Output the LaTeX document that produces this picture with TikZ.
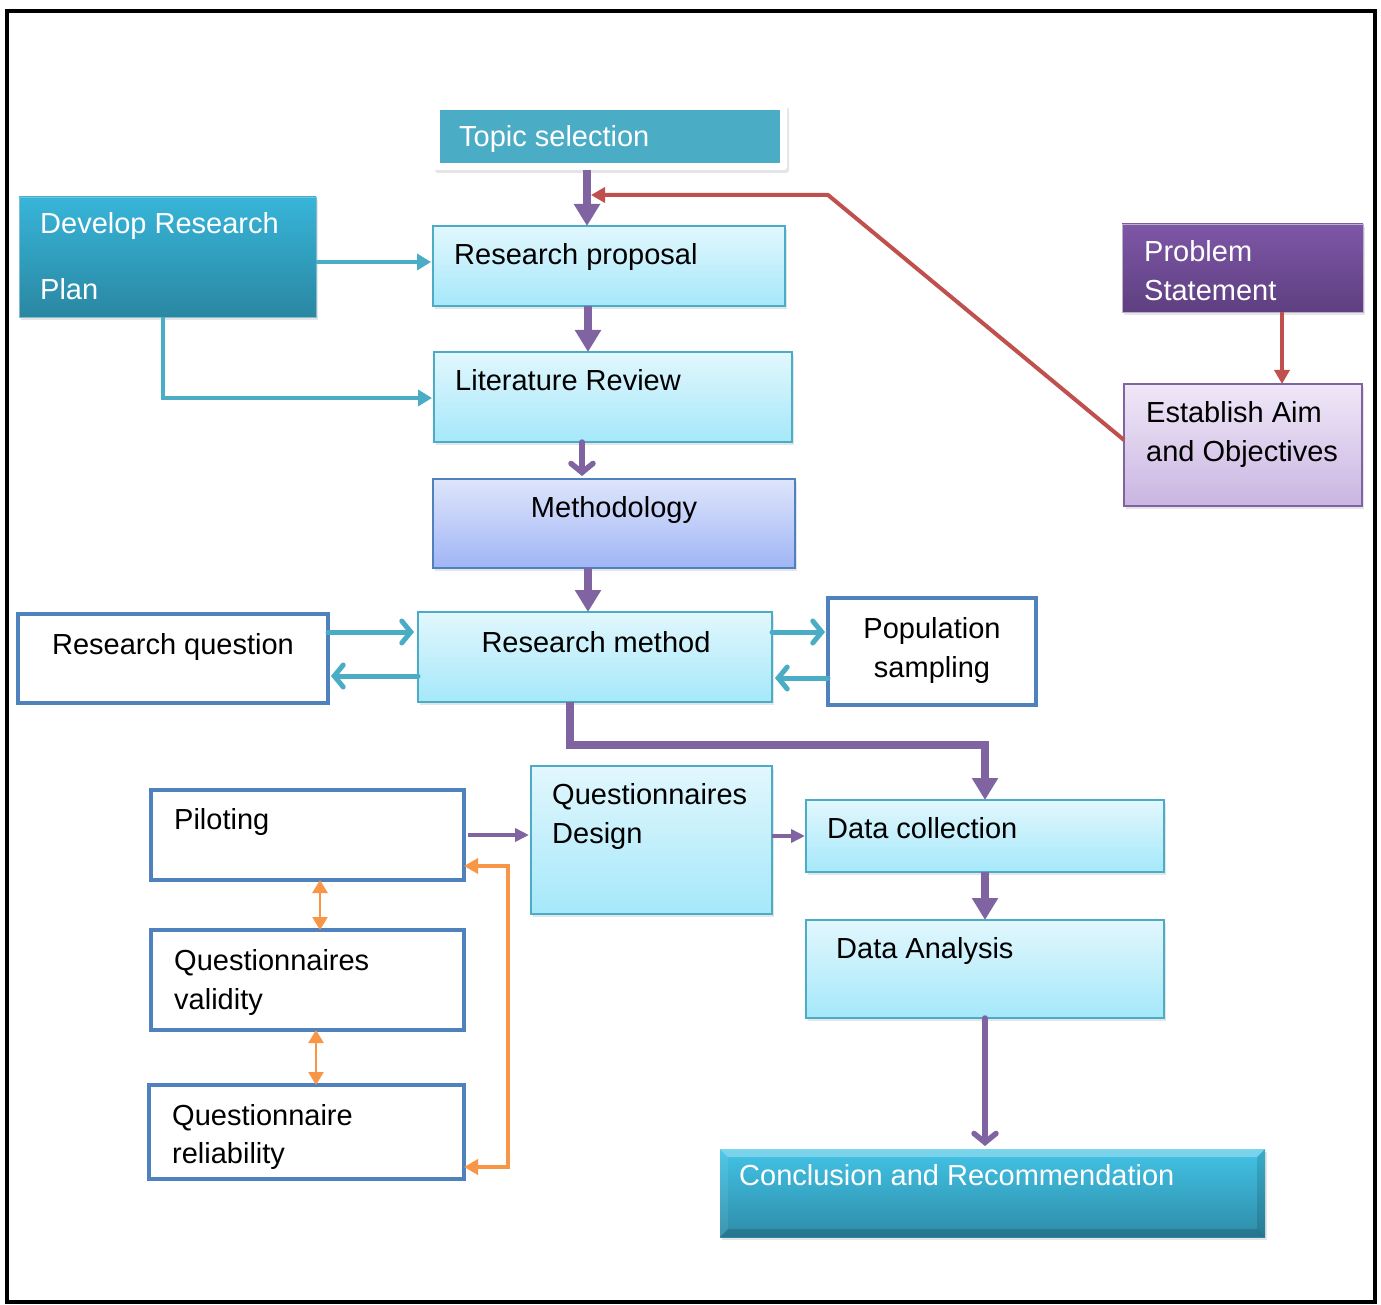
\documentclass[tikz,border=0pt]{standalone}
\usepackage{fontspec}
\setmainfont{Liberation Sans}
\usetikzlibrary{arrows.meta,shadows,calc}
\definecolor{tealA}{HTML}{4BACC6}
\definecolor{devT}{HTML}{37B5D9}
\definecolor{devB}{HTML}{2A87A2}
\definecolor{cyT}{HTML}{E2F7FD}
\definecolor{cyB}{HTML}{A5E8FA}
\definecolor{meT}{HTML}{DEE5FB}
\definecolor{meB}{HTML}{A0B5F5}
\definecolor{blueE}{HTML}{4F81BD}
\definecolor{prT}{HTML}{7E57A7}
\definecolor{prB}{HTML}{5E3F80}
\definecolor{laT}{HTML}{EFE8F7}
\definecolor{laB}{HTML}{CAB5E2}
\definecolor{purp}{HTML}{8064A2}
\definecolor{redA}{HTML}{C0504D}
\definecolor{oraA}{HTML}{F79646}
\definecolor{coT}{HTML}{42C3E6}
\definecolor{coB}{HTML}{2E8CA8}
\tikzset{
  shad/.style={drop shadow={opacity=0.2,shadow xshift=2pt,shadow yshift=-3pt}},
  boxbase/.style={rectangle, anchor=north west, inner sep=0pt, outer sep=0pt, shad},
  cybox/.style={boxbase, draw=tealA, line width=1.6pt, top color=cyT, bottom color=cyB},
  mebox/.style={boxbase, draw=blueE, line width=1.6pt, top color=meT, bottom color=meB},
  devbox/.style={boxbase, draw=devT!80!black!60, line width=0.8pt, top color=devT, bottom color=devB},
  prbox/.style={boxbase, draw=prT!70!black!40, line width=0.8pt, top color=prT, bottom color=prB},
  labox/.style={boxbase, draw=purp, line width=1.6pt, top color=laT, bottom color=laB},
  whbox/.style={rectangle, anchor=north west, inner sep=0pt, outer sep=0pt, draw=blueE, line width=4pt, fill=white},
  txt/.style={font=\fontsize{29}{35}\selectfont, inner sep=0pt, anchor=base west, text=black},
  wtxt/.style={txt, text=white},
  ctxt/.style={txt, anchor=base},
  parrow/.style={draw=purp, line width=8pt, -{Triangle[length=22pt,width=25pt]}},
  pmed/.style={draw=purp, line width=4pt, -{Triangle[length=14pt,width=13pt]}},
  pchev/.style={draw=purp, line width=5.5pt, line cap=round, -{Straight Barb[length=9pt,width=22pt,line cap=round]}},
  tarrow/.style={draw=tealA, line width=4.5pt, -{Triangle[length=14pt,width=16pt]}},
  tchev/.style={draw=tealA, line width=5pt, line cap=round, -{Straight Barb[length=9pt,width=22pt,line cap=round]}},
  rarrow/.style={draw=redA, line width=4pt, -{Triangle[length=14pt,width=15pt]}},
  oboth/.style={draw=oraA, line width=2.5pt, {Triangle[length=13pt,width=15pt]}-{Triangle[length=13pt,width=15pt]}},
  oloop/.style={draw=oraA, line width=4pt, {Triangle[length=14pt,width=15pt]}-{Triangle[length=14pt,width=15pt]}},
}
\begin{document}
\begin{tikzpicture}[x=1pt,y=-1pt]
\useasboundingbox[fill=white] (0,0) rectangle (1381,1305);
\draw[black, line width=4pt] (7,11) rectangle (1375,1302);

% boxes
\node[boxbase, fill=white, rounded corners=3pt, minimum width=354pt, minimum height=66pt] (topicOuter) at (433,104) {};
\node[rectangle, anchor=north west, inner sep=0pt, fill=tealA, minimum width=340pt, minimum height=53pt] (topic) at (440,110) {};
\node[devbox, minimum width=297pt, minimum height=120pt] (dev) at (19,197) {};
\node[cybox, minimum width=352pt, minimum height=80pt] (rp) at (433,226) {};
\node[cybox, minimum width=358pt, minimum height=90pt] (lr) at (434,352) {};
\node[mebox, minimum width=362pt, minimum height=89pt] (meth) at (433,479) {};
\node[prbox, minimum width=241pt, minimum height=88pt] (prob) at (1122,224) {};
\node[labox, minimum width=238pt, minimum height=122pt] (aim) at (1124,384) {};
\node[whbox, minimum width=310pt, minimum height=89pt] (rq) at (18,614) {};
\node[cybox, minimum width=354pt, minimum height=90pt] (rm) at (418,612) {};
\node[whbox, minimum width=208pt, minimum height=107pt] (pop) at (828,598) {};
\node[whbox, minimum width=313pt, minimum height=90pt] (pil) at (151,790) {};
\node[cybox, minimum width=241pt, minimum height=148pt] (qd) at (531,766) {};
\node[cybox, minimum width=358pt, minimum height=72pt] (dc) at (806,800) {};
\node[cybox, minimum width=358pt, minimum height=98pt] (da) at (806,920) {};
\node[whbox, minimum width=313pt, minimum height=100pt] (qv) at (151,930) {};
\node[whbox, minimum width=315pt, minimum height=94pt] (qr) at (149,1085) {};
\node[boxbase, top color=coT, bottom color=coB, minimum width=545pt, minimum height=88pt] (conc) at (720,1149) {};
% bevel of the conclusion box
\fill[white, opacity=0.3] (conc.north west) -- (conc.north east) -- ([shift={(-8pt,-8pt)}]conc.north east) -- ([shift={(8pt,-8pt)}]conc.north west) -- cycle;
\fill[white, opacity=0.08] (conc.north west) -- ([shift={(8pt,-8pt)}]conc.north west) -- ([shift={(8pt,8pt)}]conc.south west) -- (conc.south west) -- cycle;
\fill[black, opacity=0.12] (conc.north east) -- ([shift={(-8pt,-8pt)}]conc.north east) -- ([shift={(-8pt,8pt)}]conc.south east) -- (conc.south east) -- cycle;
\fill[black, opacity=0.16] (conc.south west) -- ([shift={(8pt,8pt)}]conc.south west) -- ([shift={(-8pt,8pt)}]conc.south east) -- (conc.south east) -- cycle;

% texts
\node[wtxt] (tTopic) at (459,147) {Topic selection};
\node[wtxt] (tDev1) at (40,234) {Develop Research};
\node[wtxt] (tDev2) at (40,300) {Plan};
\node[txt] (tRp) at (454,265) {Research proposal};
\node[wtxt] (tProb1) at (1144,262) {Problem};
\node[wtxt] (tProb2) at (1144,301) {Statement};
\node[txt] (tLr) at (455,390) {Literature Review};
\node[txt] (tAim1) at (1146,422) {Establish Aim};
\node[txt] (tAim2) at (1146,461) {and Objectives};
\node[ctxt] (tMeth) at (614,517) {Methodology};
\node[ctxt] (tRq) at (173,654) {Research question};
\node[ctxt] (tRm) at (596,652) {Research method};
\node[ctxt] (tPop1) at (932,638) {Population};
\node[ctxt] (tPop2) at (932,677) {sampling};
\node[txt] (tPil) at (174,829) {Piloting};
\node[txt] (tQd1) at (552,804) {Questionnaires};
\node[txt] (tQd2) at (552,843) {Design};
\node[txt] (tDc) at (827,838) {Data collection};
\node[txt] (tDa) at (836,958) {Data Analysis};
\node[txt] (tQv1) at (174,970) {Questionnaires};
\node[txt] (tQv2) at (174,1009) {validity};
\node[txt] (tQr1) at (172,1125) {Questionnaire};
\node[txt] (tQr2) at (172,1163) {reliability};
\node[wtxt] (tConc) at (739,1185) {Conclusion and Recommendation};

% connectors
\draw[parrow] ([xshift=-23pt]topicOuter.south) -- ([xshift=-23pt]topicOuter.south |- rp.north);
\coordinate (rbend) at (828,195);
\coordinate (rend) at (591,195);
\draw[rarrow] ([yshift=5pt]aim.west) -- (rbend) -- (rend);
\draw[rarrow] ([xshift=39.5pt]prob.south) -- ([xshift=39.5pt]prob.south |- aim.north);
\draw[tarrow, shorten >=2pt] ([yshift=-5pt]dev.east) -- ([yshift=-5pt]dev.east -| rp.west);
\draw[tarrow, shorten >=2pt] ([xshift=-4.5pt]dev.south) |- ([yshift=-1pt]lr.west);
\draw[parrow] ([xshift=-21pt]rp.south) -- ([xshift=-21pt]rp.south |- lr.north);
\draw[pchev, shorten >=3pt] ([xshift=-31pt]lr.south) -- ([xshift=-31pt]lr.south |- meth.north);
\draw[parrow] ([xshift=-26pt]meth.south) -- ([xshift=-26pt]meth.south |- rm.north);
\draw[tchev, shorten >=4pt] ([yshift=26.5pt]rq.east) -- ([yshift=26.5pt]rq.east -| rm.west);
\draw[tchev, shorten >=3pt] ([yshift=-19pt]rm.west) -- ([yshift=-19pt]rm.west -| rq.east);
\draw[tchev, shorten >=3pt] ([yshift=25pt]rm.east) -- ([yshift=25pt]rm.east -| pop.west);
\draw[tchev, shorten >=3pt] ([yshift=-26.5pt]pop.west) -- ([yshift=-26.5pt]pop.west -| rm.east);
\coordinate (rmb) at (570,745);
\draw[parrow] (rm.south -| rmb) -- (rmb) -| (dc.north);
\draw[pmed, shorten >=2pt] ([xshift=4pt]pil.east) -- (qd.west |- pil.east);
\draw[pmed, shorten >=1pt] (qd.east |- dc.west) -- (dc.west);
\draw[parrow] (dc.south) -- (da.north);
\draw[pchev, shorten >=3pt] (da.south) -- (da.south |- conc.north);
\draw[oboth] ([xshift=12.5pt]pil.south) -- ([xshift=12.5pt]pil.south |- qv.north);
\draw[oboth] ([xshift=8.5pt]qv.south) -- ([xshift=8.5pt]qv.south |- qr.north);
\coordinate (ob1) at (508,866);
\coordinate (ob2) at (508,1167);
\draw[oloop] (pil.east |- ob1) -- (ob1) -- (ob2) -- (qr.east |- ob2);
\end{tikzpicture}
\end{document}
